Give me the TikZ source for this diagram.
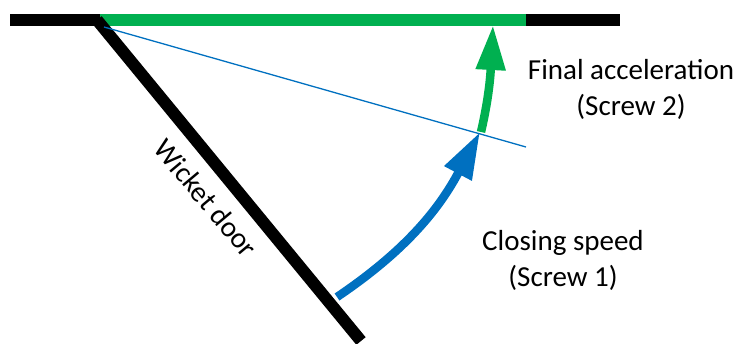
\documentclass[tikz,border=0pt]{standalone}
\usepackage{fontspec}
\setmainfont{Carlito}
\usetikzlibrary{arrows.meta}
\definecolor{doorgreen}{RGB}{0,176,80}
\definecolor{doorblue}{RGB}{0,112,192}

\begin{document}
\begin{tikzpicture}[
  x=1pt, y=-1pt,
  bar/.style={line width=12pt, color=black},
  greenbar/.style={line width=12pt, color=doorgreen},
  sweep/.style={line width=8.5pt},
  label/.style={font=\fontsize{29}{36}\selectfont, text centered, align=center, inner sep=0pt},
]
\useasboundingbox (0,0) rectangle (739,343);

%% Frame and door
\coordinate (frameleft)  at (10,20);
\coordinate (hinge)      at (97,20);
\coordinate (frameright) at (620,20);
\coordinate (doorend)    at (361,341);
\coordinate (greenleft)  at (100,20);
\coordinate (greenright) at (526,20);
\coordinate (linestart)  at (104,27);
\coordinate (lineend)    at (526,147);
\coordinate (bluestart)  at (337,297);
\coordinate (bluetip)    at (480,132);
\coordinate (greenstart) at (481,132);
\coordinate (greentip)   at (493,25);

\draw[bar] (frameleft) -- (frameright);
\draw[greenbar] (greenleft) -- (greenright);
\draw[bar, line join=bevel] (hinge) -- (doorend);

%% Thin line
\draw[doorblue, line width=1.3pt] (linestart) -- (lineend);

%% Arrows
\draw[sweep, doorblue, -{Triangle[length=47pt, width=29pt]}] (bluestart) to[out=34, in=242] (bluetip);
\draw[sweep, doorgreen, -{Triangle[length=45pt, width=28pt]}] (greenstart) to[out=77, in=267] (greentip);

%% Labels
\node[label] (final) at (631,89) {Final acceleration\\(Screw 2)};
\node[label] (closing) at (563,260) {Closing speed\\(Screw 1)};
\node[label, rotate=-50] (door) at (206,198) {Wicket door};

\end{tikzpicture}
\end{document}
